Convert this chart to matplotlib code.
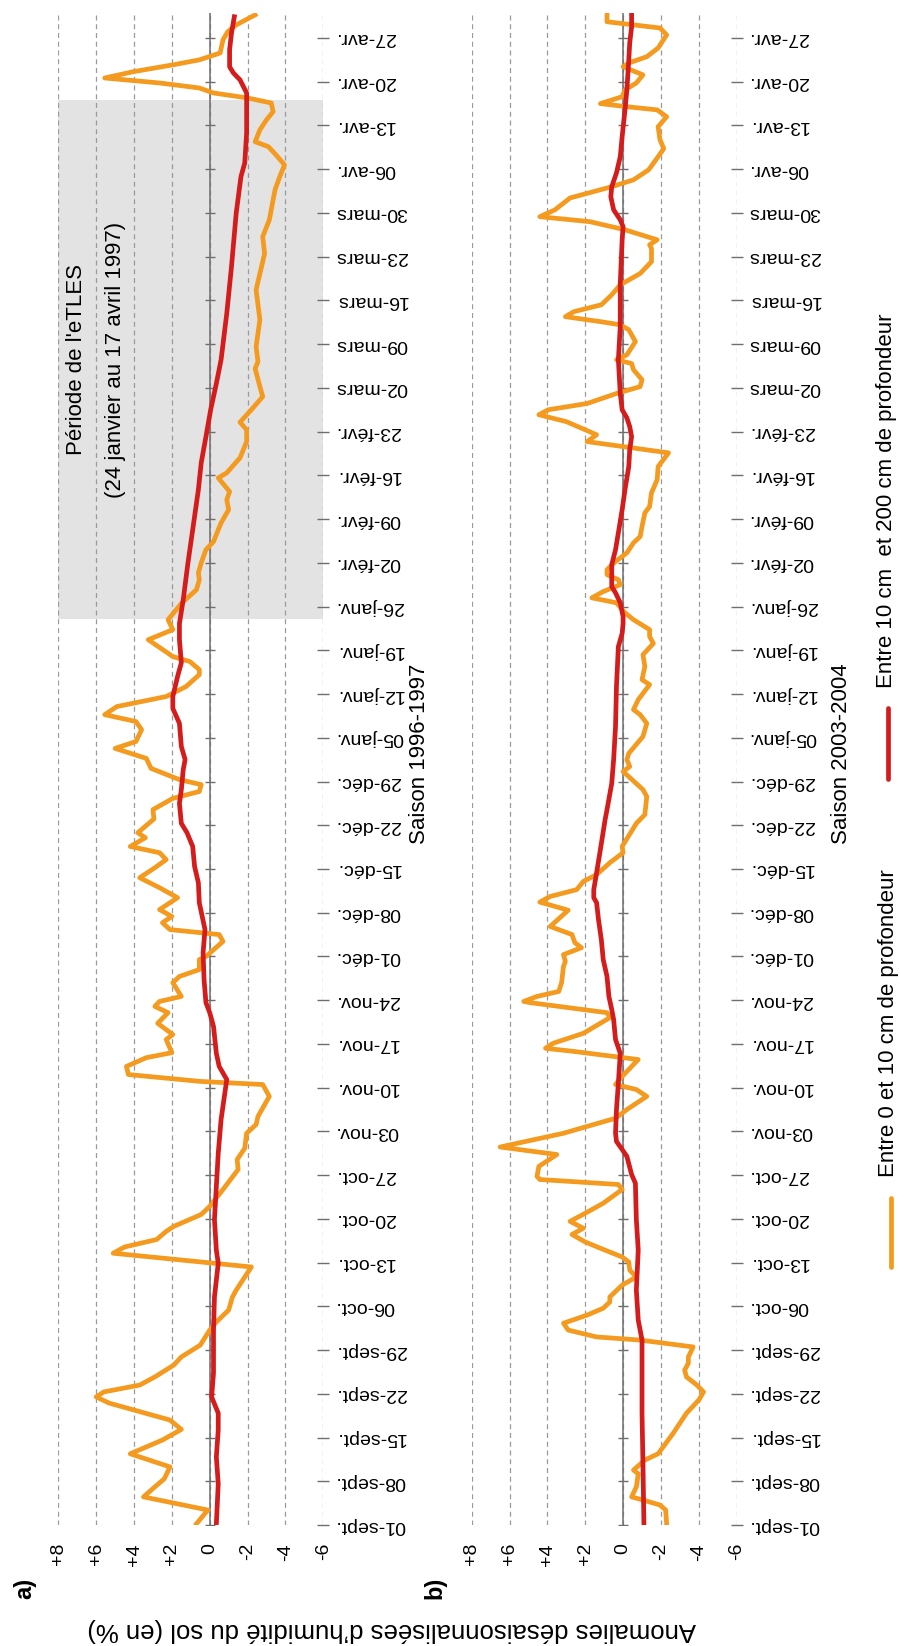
import numpy as np
import matplotlib.pyplot as plt
from matplotlib.lines import Line2D

plt.rcParams['font.family'] = ['Liberation Sans', 'DejaVu Sans']

# weekly date labels (day 0 = 1st september)
date_labels = ['01-sept.', '08-sept.', '15-sept.', '22-sept.', '29-sept.', '06-oct.', '13-oct.',
               '20-oct.', '27-oct.', '03-nov.', '10-nov.', '17-nov.', '24-nov.', '01-déc.',
               '08-déc.', '15-déc.', '22-déc.', '29-déc.', '05-janv.', '12-janv.', '19-janv.',
               '26-janv.', '02-févr.', '09-févr.', '16-févr.', '23-févr.', '02-mars', '09-mars',
               '16-mars', '23-mars', '30-mars', '06-avr.', '13-avr.', '20-avr.', '27-avr.']
anomaly_ticks = [8, 6, 4, 2, 0, -2, -4, -6]
anomaly_labels = ['+8', '+6', '+4', '+2', '0', '-2', '-4', '-6']

# eTLES period, 24 janvier -> 17 avril 1997 (days since 01-sept)
period_start = 145
period_end = 228

# ---- saison 1996-1997 : 0-10 cm
a_surf_day = [0.2, 2.4, 4.5, 6.1, 7.4, 9.3, 11.4, 13.6, 15.3, 16.8, 18.4, 19.5, 20.5, 21.3, 22.4,
              23.7, 25.6, 26.9, 28.8, 31.2, 32.5, 34.4, 36.5, 37.6, 41.3, 43.5, 44.5, 45.7, 47.0,
              47.8, 49.7, 51.0, 53.7, 56.9, 58.5, 60.3, 62.7, 64.1, 65.4, 68.6, 70.5, 71.0, 72.1,
              73.4, 74.8, 75.6, 77.7, 78.5, 80.3, 82.0, 83.0, 83.8, 84.6, 86.8, 87.8, 88.9, 90.5,
              91.0, 93.4, 94.5, 95.3, 96.4, 97.4, 98.5, 100.4, 102.0, 103.6, 105.2, 106.5, 107.6,
              108.6, 110.0, 110.8, 113.0, 114.5, 116.3, 117.4, 118.5, 119.3, 121.1, 122.7, 124.3,
              125.4, 127.3, 128.6, 129.7, 131.0, 132.6, 134.2, 136.1, 136.9, 138.2, 139.0, 141.7,
              143.3, 144.9, 147.5, 149.7, 151.3, 152.4, 154.0, 156.1, 157.4, 160.4, 162.5, 164.1,
              165.4, 167.6, 168.4, 170.8, 173.4, 175.3, 176.5, 178.5, 180.6, 182.2, 185.1, 186.2,
              188.6, 192.9, 197.7, 200.3, 203.5, 206.2, 208.9, 212.1, 213.7, 215.8, 217.7, 219.3,
              220.6, 221.4, 223.3, 224.9, 226.2, 227.6, 228.4, 229.2, 230.0, 230.8, 231.6, 232.6,
              233.7, 234.5, 235.6, 237.7, 239.0, 240.1, 241.7]
a_surf_val = [0.7, 0.1, 3.5, 2.9, 2.4, 2.1, 4.2, 2.5, 1.5, 2.1, 4.0, 5.3, 6.0, 5.6, 3.7,
              2.9, 1.9, 1.5, 0.5, 0.0, -0.35, -1.0, -1.2, -1.4, -2.2, 5.1, 4.5, 2.8, 2.3,
              1.9, 0.45, 0.0, -0.7, -1.5, -1.45, -1.85, -1.95, -2.45, -2.55, -3.15, -2.8, 0.5, 4.3,
              4.4, 3.35, 2.0, 2.3, 1.95, 2.75, 2.2, 2.9, 2.65, 1.5, 1.95, 1.6, 0.55, 0.55,
              0.2, -0.7, -0.5, 2.1, 2.5, 2.0, 2.65, 1.7, 2.65, 3.7, 2.9, 2.3, 2.65,
              4.2, 3.4, 3.8, 2.95, 3.0, 1.95, 0.55, 0.45, 1.6, 3.1, 3.35, 5.0,
              3.9, 3.6, 3.9, 5.55, 4.9, 2.3, 1.25, 0.55, 0.55, 1.05, 1.95, 3.25,
              1.95, 2.2, 1.5, 0.7, 0.55, 0.6, 0.45, 0.2, -0.2, -0.6, -1.0, -0.9,
              -1.05, -0.45, -0.9, -1.6, -1.95, -1.95, -1.6, -2.2, -2.8, -2.65, -2.4, -2.55,
              -2.45, -2.65, -2.45, -2.65, -2.9, -2.8, -3.15, -3.35, -3.45, -3.7, -3.95, -3.5,
              -3.1, -2.4, -2.65, -3.0, -3.35, -3.25, -2.0, -0.2, 0.55, 2.65, 5.55, 4.05,
              1.95, 0.55, -0.55, -0.7, -0.95, -1.4, -2.4]

# ---- saison 1996-1997 : 10-200 cm
a_deep_day = [0.2, 6.6, 10.9, 15.2, 17.9, 20.5, 24.3, 31.2, 36.5, 41.9, 44.0, 48.9, 59.5, 64.9,
              71.3, 73.4, 75.5, 79.8, 82.0, 83.6, 87.3, 91.6, 95.3, 99.6, 102.8, 105.4, 108.6,
              110.8, 112.3, 115.5, 117.7, 120.9, 122.5, 124.6, 128.3, 130.7, 132.6, 135.8, 138.0,
              141.7, 144.3, 148.1, 154.0, 159.3, 165.7, 170.0, 174.2, 178.5, 182.7, 186.5, 193.9,
              201.4, 210.0, 215.8, 218.0, 222.8, 227.0, 229.2, 231.3, 232.4, 233.4, 236.1, 238.8,
              241.4]
a_deep_val = [-0.35, -0.45, -0.35, -0.45, -0.45, -0.1, -0.2, -0.2, -0.25, -0.45, -0.35, -0.25, -0.45,
              -0.6, -0.9, -0.5, -0.35, -0.2, 0.0, 0.2, 0.3, 0.35, 0.25, 0.55, 0.6, 0.8, 0.9,
              1.2, 1.5, 1.6, 1.5, 1.4, 1.3, 1.5, 1.6, 1.95, 1.95, 1.7, 1.5,
              1.6, 1.6, 1.4, 1.15, 0.9, 0.6, 0.45, 0.2, -0.05, -0.35, -0.6, -0.9,
              -1.15, -1.4, -1.65, -1.85, -1.95, -1.95, -1.95, -1.6, -1.25, -1.05, -1.05, -1.15,
              -1.3]

# ---- saison 2003-2004 : 0-10 cm
b_surf_day = [0.2, 2.4, 3.2, 4.0, 4.5, 6.1, 8.2, 8.8, 10.4, 11.4, 14.7, 17.9, 20.0, 21.3, 22.4,
              23.7, 24.8, 25.9, 26.9, 28.5, 29.6, 30.1, 31.2, 32.3, 33.6, 34.7, 35.7, 36.5, 38.4,
              39.7, 40.8, 42.1, 42.9, 44.3, 45.3, 46.5, 47.5, 48.6, 49.9, 51.5, 53.7, 54.5, 55.3,
              55.8, 57.4, 57.9, 59.3, 60.5, 62.7, 63.8, 65.1, 66.5, 68.6, 69.7, 70.5, 71.8, 74.5,
              74.9, 75.8, 76.3, 77.1, 78.7, 81.2, 82.0, 83.6, 83.8, 84.6, 85.4, 86.8, 89.4, 90.2,
              91.3, 92.4, 93.2, 94.5, 95.8, 98.4, 99.7, 100.6, 101.7, 103.0, 104.1, 106.0, 107.6,
              108.6, 110.8, 112.3, 113.7, 116.6, 117.7, 120.6, 121.4, 122.5, 123.5, 126.2, 128.3,
              129.7, 130.5, 132.1, 134.5, 135.3, 137.4, 139.3, 141.1, 142.2, 143.3, 144.9, 146.0,
              147.6, 148.4, 149.4, 150.5, 151.3, 152.1, 152.9, 154.2, 155.6, 157.2, 158.2, 159.8,
              162.0, 163.0, 165.2, 167.3, 169.4, 171.6, 173.4, 174.5, 176.6, 177.7, 178.5, 179.5,
              181.1, 182.2, 183.3, 184.9, 185.9, 186.5, 187.3, 189.4, 191.3, 192.1, 192.6, 193.4,
              194.2, 195.3, 196.9, 198.5, 200.3, 202.2, 204.3, 204.9, 205.7, 207.3, 208.6, 209.4,
              210.5, 212.4, 213.7, 214.2, 215.3, 216.9, 219.0, 220.3, 221.7, 223.8, 225.4, 226.5,
              227.0, 227.5, 228.6, 229.7, 230.8, 232.1, 233.4, 234.0, 235.0, 236.4, 238.5, 239.6,
              240.1, 240.6, 241.7]
b_surf_val = [-2.3, -2.25, -1.95, -1.05, -0.45, -0.7, -0.8, -0.55, -1.15, -1.85, -2.65, -3.35, -4.0,
              -4.25, -3.9, -3.35, -3.25, -3.45, -3.45, -3.7, -0.9, 1.4, 2.9, 3.15, 1.9, 1.05, 0.7,
              0.7, 0.05, -0.7, -0.35, -0.3, 0.05, 1.2, 2.0, 2.7, 2.1, 2.8, 2.0, 1.05, 0.05, 0.25,
              4.4, 4.55, 4.45, 4.2, 3.5, 6.5, 3.15, 1.9, 0.4, -0.2, -1.25, -0.7, 0.4, 0.05, -0.8,
              0.25, 2.6, 4.1, 3.7, 2.1, 0.7, 0.85, 4.9, 5.25, 4.55, 3.4, 3.25, 3.15, 3.05,
              3.15, 2.2, 2.55, 2.7, 3.85, 2.9, 4.4, 3.85, 2.45, 2.1, 1.4, 0.7, 0.0,
              0.05, -0.4, -0.7, -1.15, -1.25, -1.05, 0.0, -0.35, -0.2, -0.3, -1.05, -1.25,
              -0.9, -0.55, -0.8, -1.4, -1.0, -1.15, -1.05, -1.6, -1.4, -1.4, -0.55, -0.1,
              0.35, 1.65, 1.05, 0.15, 0.25, 0.85, 0.85, 0.4, -0.2, -0.55, -0.9, -1.0,
              -1.15, -1.4, -1.5, -1.8, -1.85, -2.4, 1.9, 1.4, 3.0, 4.45, 3.95, 1.9,
              0.35, -0.9, -1.0, -0.55, -0.45, 0.35, -0.2, -0.65, -0.3, 0.15, 1.2, 3.05,
              2.6, 1.15, 0.6, 0.15, -0.9, -1.5, -1.5, -1.4, -1.8, -0.1, 1.75, 4.4,
              3.6, 2.8, 1.2, 0.6, -0.55, -1.35, -1.85, -2.15, -1.95, -1.85, -2.3, -1.8,
              -0.2, 1.2, 0.05, -0.1, -0.7, -1.05, 0.0, -0.3, -1.25, -1.85, -2.3, -1.95,
              -0.55, 0.85, 0.85]

# ---- saison 2003-2004 : 10-200 cm
b_deep_day = [0.2, 9.8, 17.9, 24.8, 29.6, 32.8, 37.6, 44.0, 48.9, 54.7, 56.1, 59.0, 60.1, 61.4,
              62.7, 66.5, 70.7, 75.5, 77.7, 80.9, 82.5, 84.6, 87.8, 90.5, 93.7, 96.9, 99.6, 100.4,
              101.7, 104.4, 108.1, 112.9, 114.5, 118.7, 122.5, 127.8, 134.2, 140.6, 142.7, 144.3,
              145.4, 147.6, 149.2, 150.2, 153.7, 156.1, 158.8, 162.5, 165.7, 169.4, 172.1, 174.2,
              175.8, 177.2, 178.5, 181.1, 186.5, 191.8, 198.7, 205.7, 207.8, 208.9, 210.5, 212.6,
              214.2, 216.4, 219.0, 222.2, 226.5, 229.7, 234.5, 237.2, 239.8, 241.7]
b_deep_val = [-1.1, -1.05, -1.0, -1.0, -1.0, -0.8, -0.7, -0.8, -0.7, -0.65, -0.45, -0.2, 0.05, 0.35,
              0.4, 0.35, 0.25, 0.15, 0.4, 0.5, 0.6, 0.75, 0.85, 1.05, 1.15, 1.3, 1.4, 1.55,
              1.55, 1.4, 1.2, 0.95, 0.85, 0.6, 0.5, 0.4, 0.35, 0.25, 0.05, 0.0,
              0.0, 0.15, 0.4, 0.6, 0.6, 0.4, 0.25, 0.05, -0.1, -0.3, -0.35, -0.45,
              -0.35, -0.2, 0.05, 0.15, 0.25, 0.15, 0.15, 0.05, 0.0, 0.15, 0.5, 0.65,
              0.6, 0.35, 0.15, 0.05, -0.1, -0.2, -0.3, -0.35, -0.45, -0.45]

ORANGE = '#f39a1f'
RED = '#d41c1c'
AXIS_GREY = '#6e6e6e'


def draw_panel(ax, surf_day, surf_val, deep_day, deep_val):
    ax.plot(surf_val, surf_day, color=ORANGE, lw=3.4, zorder=3)
    ax.plot(deep_val, deep_day, color=RED, lw=3.4, zorder=4)

    # zero line with its little date ticks
    tick_days = np.arange(len(date_labels)) * 7
    ax.axvline(0, color=AXIS_GREY, lw=1.1, zorder=2)
    ax.plot(np.zeros(len(tick_days)), tick_days, ls='none', marker='_', ms=7, mew=1,
            color=AXIS_GREY, zorder=2)

    ax.set_xlim(8, -6)
    ax.set_ylim(0, 242)
    ax.set_xticks(anomaly_ticks)
    ax.set_xticklabels(anomaly_labels, rotation=90, fontsize=14)
    ax.tick_params(axis='x', length=0, pad=13)

    ax.yaxis.tick_right()
    ax.set_yticks(tick_days)
    ax.set_yticklabels(date_labels, rotation=180, fontsize=14)
    ax.tick_params(axis='y', direction='inout', length=9, width=1, color=AXIS_GREY, pad=4)
    for lbl in ax.get_yticklabels():
        lbl.set_va('center')

    ax.grid(axis='x', color='#9a9a9a', ls=(0, (4, 3)), lw=0.9)
    ax.set_axisbelow(True)
    for s in ax.spines.values():
        s.set_visible(False)


fig = plt.figure(figsize=(9, 16.46), dpi=100)
ax_a = fig.add_axes([0.0648, 0.0735, 0.2944, 0.9186])
ax_b = fig.add_axes([0.5241, 0.0735, 0.2944, 0.9186])

draw_panel(ax_a, a_surf_day, a_surf_val, a_deep_day, a_deep_val)
draw_panel(ax_b, b_surf_day, b_surf_val, b_deep_day, b_deep_val)

# eTLES period
ax_a.axhspan(period_start, period_end, color='#e3e3e3', lw=0, zorder=0)
mid = (period_start + period_end) / 2
ax_a.text(0.067, mid, "Période de l'eTLES", transform=ax_a.get_yaxis_transform(),
          rotation=90, ha='center', va='center', fontsize=16)
ax_a.text(0.214, mid, '(24 janvier au 17 avril 1997)', transform=ax_a.get_yaxis_transform(),
          rotation=90, ha='center', va='center', fontsize=16)

ax_a.text(1.365, 123.5, 'Saison 1996-1997', transform=ax_a.get_yaxis_transform(),
          rotation=90, ha='center', va='center', fontsize=16)
ax_b.text(1.397, 123.5, 'Saison 2003-2004', transform=ax_b.get_yaxis_transform(),
          rotation=90, ha='center', va='center', fontsize=16)

fig.text(0.028, 0.0352, 'a)', rotation=90, ha='center', va='center', fontsize=17, fontweight='bold')
fig.text(0.483, 0.0352, 'b)', rotation=90, ha='center', va='center', fontsize=17, fontweight='bold')

fig.text(0.435, 0.0097, "Anomalies désaisonnalisées d’humidité du sol (en %)", rotation=180,
         ha='center', va='center', fontsize=18.5)

# legend, drawn by hand because it is rotated
fig.add_artist(Line2D([0.99, 0.99], [0.230, 0.272], transform=fig.transFigure,
                      color=ORANGE, lw=3.4, solid_capstyle='round'))
fig.text(0.987, 0.285, 'Entre 0 et 10 cm de profondeur', rotation=90, ha='center', va='bottom',
         fontsize=16)
fig.add_artist(Line2D([0.9867, 0.9867], [0.527, 0.570], transform=fig.transFigure,
                      color=RED, lw=3.4, solid_capstyle='round'))
fig.text(0.985, 0.582, 'Entre 10 cm  et 200 cm de profondeur', rotation=90, ha='center',
         va='bottom', fontsize=16)

fig.savefig('out.png', dpi=100, facecolor='white')
